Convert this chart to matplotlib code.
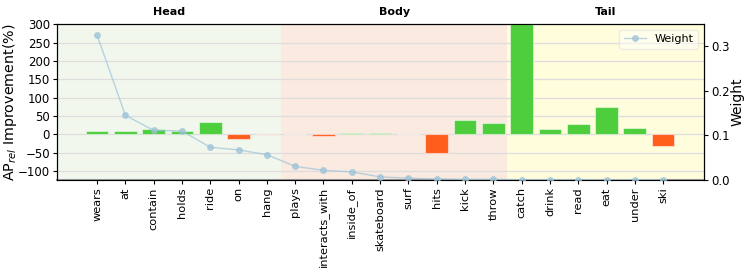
import numpy as np
import matplotlib
matplotlib.use("Agg")
import matplotlib.pyplot as plt

# predicates, grouped head / body / tail
labels = ["wears", "at", "contain", "holds", "ride", "on", "hang",
          "plays", "interacts_with", "inside_of", "skateboard", "surf", "hits", "kick", "throw",
          "catch", "drink", "read", "eat", "under", "ski"]
improvement = [8, 9, 15, 8, 33, -13, -2,
               1, -4, 3, 3, 2, -50, 38, 31,
               400, 14, 29, 74, 16, -33]
weight = [0.324, 0.145, 0.111, 0.110, 0.0735, 0.0676, 0.057,
          0.031, 0.022, 0.0186, 0.0074, 0.0045, 0.003, 0.002, 0.002,
          0.001, 0.001, 0.001, 0.001, 0.001, 0.001]
groups = ["Head", "Body", "Tail"]
group_sizes = [7, 8, 6]

x = np.arange(len(labels))
xlim = (-1.42, 21.44)

fig = plt.figure(figsize=(7.48, 2.69), dpi=100)
ax1 = fig.add_axes([0.076, 0.33, 0.865, 0.58])

# group backgrounds + titles
bg_colors = ["#f2f7ee", "#fbeae0", "#fffddc"]
edges = np.concatenate([[0], np.cumsum(group_sizes)]) - 0.5
edges[0] = xlim[0]
edges[-1] = xlim[1]
for k in range(len(groups)):
    ax1.axvspan(edges[k], edges[k + 1], color=bg_colors[k], zorder=0, lw=0)
    ax1.annotate(groups[k], xy=((edges[k] + edges[k + 1]) / 2, 1.0),
                 xycoords=("data", "axes fraction"), xytext=(0, 5),
                 textcoords="offset points", ha="center", va="bottom",
                 fontsize=8, fontweight="bold")

# bar colours from sign/magnitude
colors = []
for v in improvement:
    if v >= 0:
        c = "#44cc33"
    else:
        c = "#ff5510"
    colors.append(matplotlib.colors.to_rgba(c, 0.3 if abs(v) < 2.5 else 0.95))

ax1.bar(x, improvement, width=0.8, color=colors, edgecolor=(1, 1, 1, 0.5), lw=0.8, zorder=3)
ax1.set_ylim(-125, 300)
ax1.set_xlim(*xlim)
ax1.set_yticks(np.arange(-100, 301, 50))
ax1.grid(axis="y", color="#dddddd", lw=0.9, zorder=1)
ax1.set_axisbelow(True)
ax1.set_ylabel(r"AP$_{rel}$ Improvement(%)", fontsize=10.3)
ax1.yaxis.set_label_coords(-0.058, 0.5)
ax1.set_xticks(x)
ax1.set_xticklabels(labels, rotation=90, fontsize=8.2)
ax1.tick_params(axis="x", length=3, pad=2)
ax1.tick_params(axis="y", labelsize=8.5, length=3, pad=2)
ax1.spines["bottom"].set_color("#999999")
ax1.spines["bottom"].set_linewidth(1.5)

ax2 = ax1.twinx()
ax2.plot(x, weight, "-o", color="#9cc3d8", alpha=0.7, lw=1, ms=4, label="Weight", zorder=5)
ax2.set_ylim(0, 0.348)
ax2.set_yticks([0.0, 0.1, 0.2, 0.3])
ax2.tick_params(axis="y", labelsize=8.5, length=3, pad=2)
ax2.set_ylabel("Weight", fontsize=10, labelpad=1)
ax2.legend(loc="upper right", fontsize=8, framealpha=0.5, edgecolor="#dddddd")

fig.savefig("out.png", dpi=100)
